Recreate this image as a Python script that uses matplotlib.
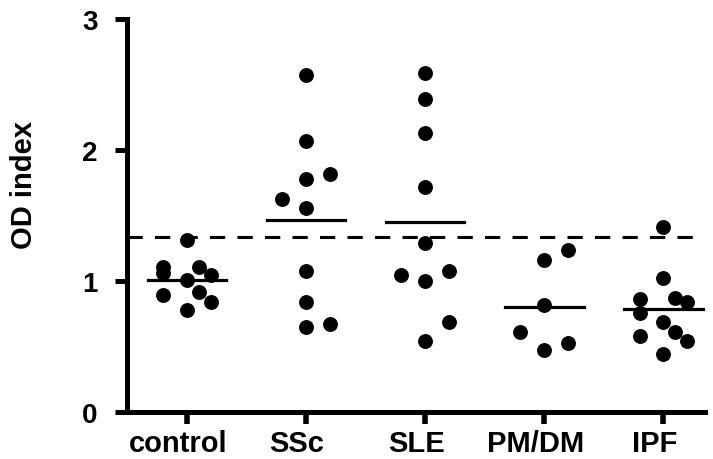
import matplotlib
matplotlib.use("Agg")
import matplotlib.pyplot as plt
import matplotlib.transforms as mtransforms
import numpy as np

plt.rcParams["font.family"] = ["Liberation Sans", "DejaVu Sans"]
plt.rcParams["font.weight"] = "bold"

groups = ["control", "SSc", "SLE", "PM/DM", "IPF"]

# OD index values per group, with small horizontal offsets as drawn
control_vals = [1.31, 1.11, 1.06, 1.11, 1.05, 1.01, 0.89, 0.92, 0.84, 0.78]
control_off = [0.0, -0.2, -0.2, 0.1, 0.2, 0.0, -0.2, 0.1, 0.2, 0.0]
ssc_vals = [2.57, 2.07, 1.78, 1.82, 1.63, 1.56, 1.08, 0.84, 0.65, 0.67]
ssc_off = [0.0, 0.0, 0.0, 0.2, -0.2, 0.0, 0.0, 0.0, 0.0, 0.2]
sle_vals = [2.59, 2.39, 2.13, 1.72, 1.29, 1.05, 1.00, 1.08, 0.69, 0.54]
sle_off = [0.0, 0.0, 0.0, 0.0, 0.0, -0.2, 0.0, 0.2, 0.2, 0.0]
pmdm_vals = [1.24, 1.16, 0.82, 0.61, 0.53, 0.47]
pmdm_off = [0.2, 0.0, 0.0, -0.2, 0.2, 0.0]
ipf_vals = [1.41, 1.02, 0.86, 0.87, 0.84, 0.76, 0.69, 0.61, 0.54, 0.58, 0.44]
ipf_off = [0.0, 0.0, -0.2, 0.1, 0.2, -0.2, 0.0, 0.1, 0.2, -0.2, 0.0]

cutoff = 1.333

values = [control_vals, ssc_vals, sle_vals, pmdm_vals, ipf_vals]
offsets = [control_off, ssc_off, sle_off, pmdm_off, ipf_off]

fig = plt.figure(figsize=(7.13, 4.6), dpi=100)
ax = fig.add_axes([0.1788, 0.102, 0.81, 0.8545])

ax.axhline(cutoff, color="black", lw=2.2, dashes=(5, 4), zorder=1)

for i, (vals, off) in enumerate(zip(values, offsets)):
    x = i + np.array(off)
    ax.scatter(x, vals, s=115, color="black", zorder=3, linewidths=0)
    m = np.mean(vals)
    ax.plot([i - 0.33, i + 0.33], [m, m], color="black", lw=2.3, zorder=2)

ax.set_xlim(-0.5, 4.35)
ax.set_ylim(0, 3)
ax.set_yticks([0, 1, 2, 3])
ax.set_xticks(range(len(groups)))
ax.set_xticklabels(groups)
ax.set_ylabel("OD index", fontsize=21, fontweight="bold", va="center")
ax.yaxis.set_label_coords(-0.179, 0.58)

for side in ("top", "right"):
    ax.spines[side].set_visible(False)
for side in ("left", "bottom"):
    ax.spines[side].set_linewidth(3.6)

ax.tick_params(axis="y", length=8.5, width=3.6, pad=13, labelsize=20)
ax.tick_params(axis="x", length=8.5, width=4, pad=4, labelsize=21)
shift = mtransforms.ScaledTranslation(-9 / 100, 0, fig.dpi_scale_trans)
for lab in ax.get_xticklabels():
    lab.set_fontweight("bold")
    lab.set_transform(lab.get_transform() + shift)
for lab in ax.get_yticklabels():
    lab.set_fontweight("bold")

fig.savefig("out.png", dpi=100)
